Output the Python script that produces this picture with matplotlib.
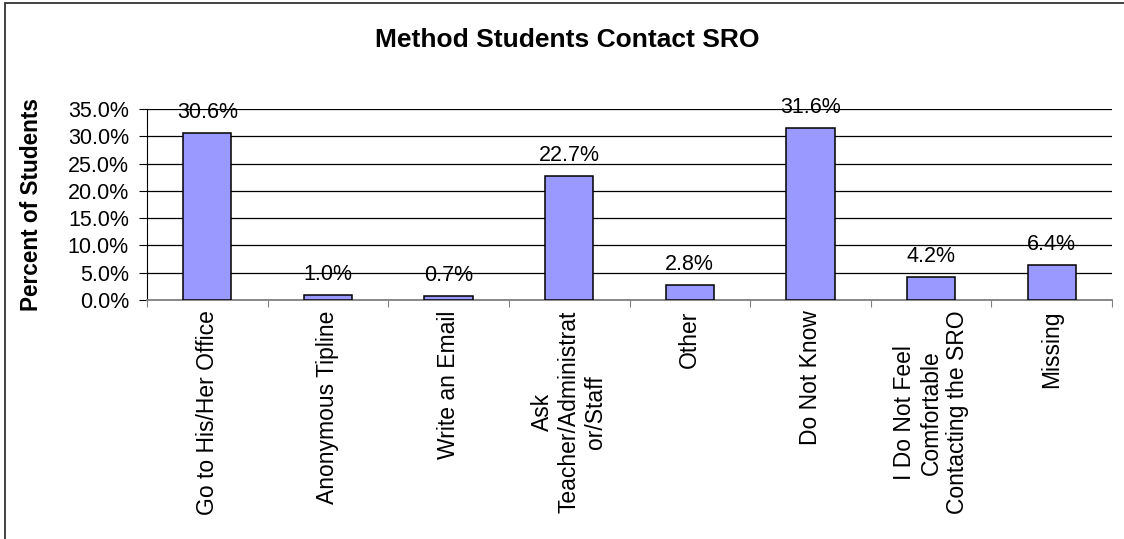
import matplotlib
matplotlib.use("Agg")
import matplotlib.pyplot as plt
from matplotlib.patches import Rectangle

plt.rcParams['font.family'] = ['Liberation Sans', 'DejaVu Sans']

categories = [
    "Go to His/Her Office",
    "Anonymous Tipline",
    "Write an Email",
    "Ask\nTeacher/Administrat\nor/Staff",
    "Other",
    "Do Not Know",
    "I Do Not Feel\nComfortable\nContacting the SRO",
    "Missing",
]
percent = [30.6, 1.0, 0.7, 22.7, 2.8, 31.6, 4.2, 6.4]
yticks = [0, 5, 10, 15, 20, 25, 30, 35]

W, H = 1124, 539
fig = plt.figure(figsize=(W / 100, H / 100), dpi=100)
fig.patch.set_facecolor('white')

# outer chart frame
fig.patches.append(Rectangle((5 / W, -0.02), 1.2, (H - 3) / H + 0.02,
                             transform=fig.transFigure, fill=False,
                             edgecolor='#333333', linewidth=1.3))

left, right, top, bottom = 147, 1112, 109, 300
ax = fig.add_axes([left / W, 1 - bottom / H, (right - left) / W, (bottom - top) / H])

x = list(range(len(categories)))
ax.bar(x, percent, width=0.4, color='#9999FF', edgecolor='black', linewidth=1.1, zorder=3)

for xi, v in zip(x, percent):
    ax.annotate(f"{v:.1f}%", (xi, v), xytext=(0, 7), textcoords='offset points',
                ha='center', va='bottom', fontsize=15.5, zorder=4)

ax.set_xlim(-0.5, len(categories) - 0.5)
ax.set_ylim(0, 35)
ax.set_yticks(yticks)
ax.set_yticklabels([f"{t:.1f}%" for t in yticks], fontsize=15.5)
ax.yaxis.grid(True, color='black', linewidth=0.9, zorder=0)
ax.set_axisbelow(True)

ax.set_xticks([i - 0.5 for i in range(len(categories) + 1)])
ax.set_xticklabels([])
ax.tick_params(axis='x', direction='out', length=5, color='#808080')
ax.tick_params(axis='y', direction='out', length=6, color='black', pad=7)

for xi, lab in zip(x, categories):
    ax.text(xi, -0.055, lab, transform=ax.get_xaxis_transform(), rotation=90,
            ha='center', va='top', fontsize=16.5, multialignment='center',
            linespacing=1.2)

for s in ['top', 'right']:
    ax.spines[s].set_visible(False)
ax.spines['left'].set_color('black')
ax.spines['bottom'].set_color('#808080')
ax.spines['bottom'].set_linewidth(1.3)

ax.set_ylabel("Percent of Students", fontsize=16.3, fontweight='bold')
ax.yaxis.set_label_coords(-(left - 43) / (right - left), 0.5)
fig.text(567 / W, 1 - 40 / H, "Method Students Contact SRO", ha='center', va='center',
         fontsize=19, fontweight='bold')

fig.savefig("out.png", dpi=100)
